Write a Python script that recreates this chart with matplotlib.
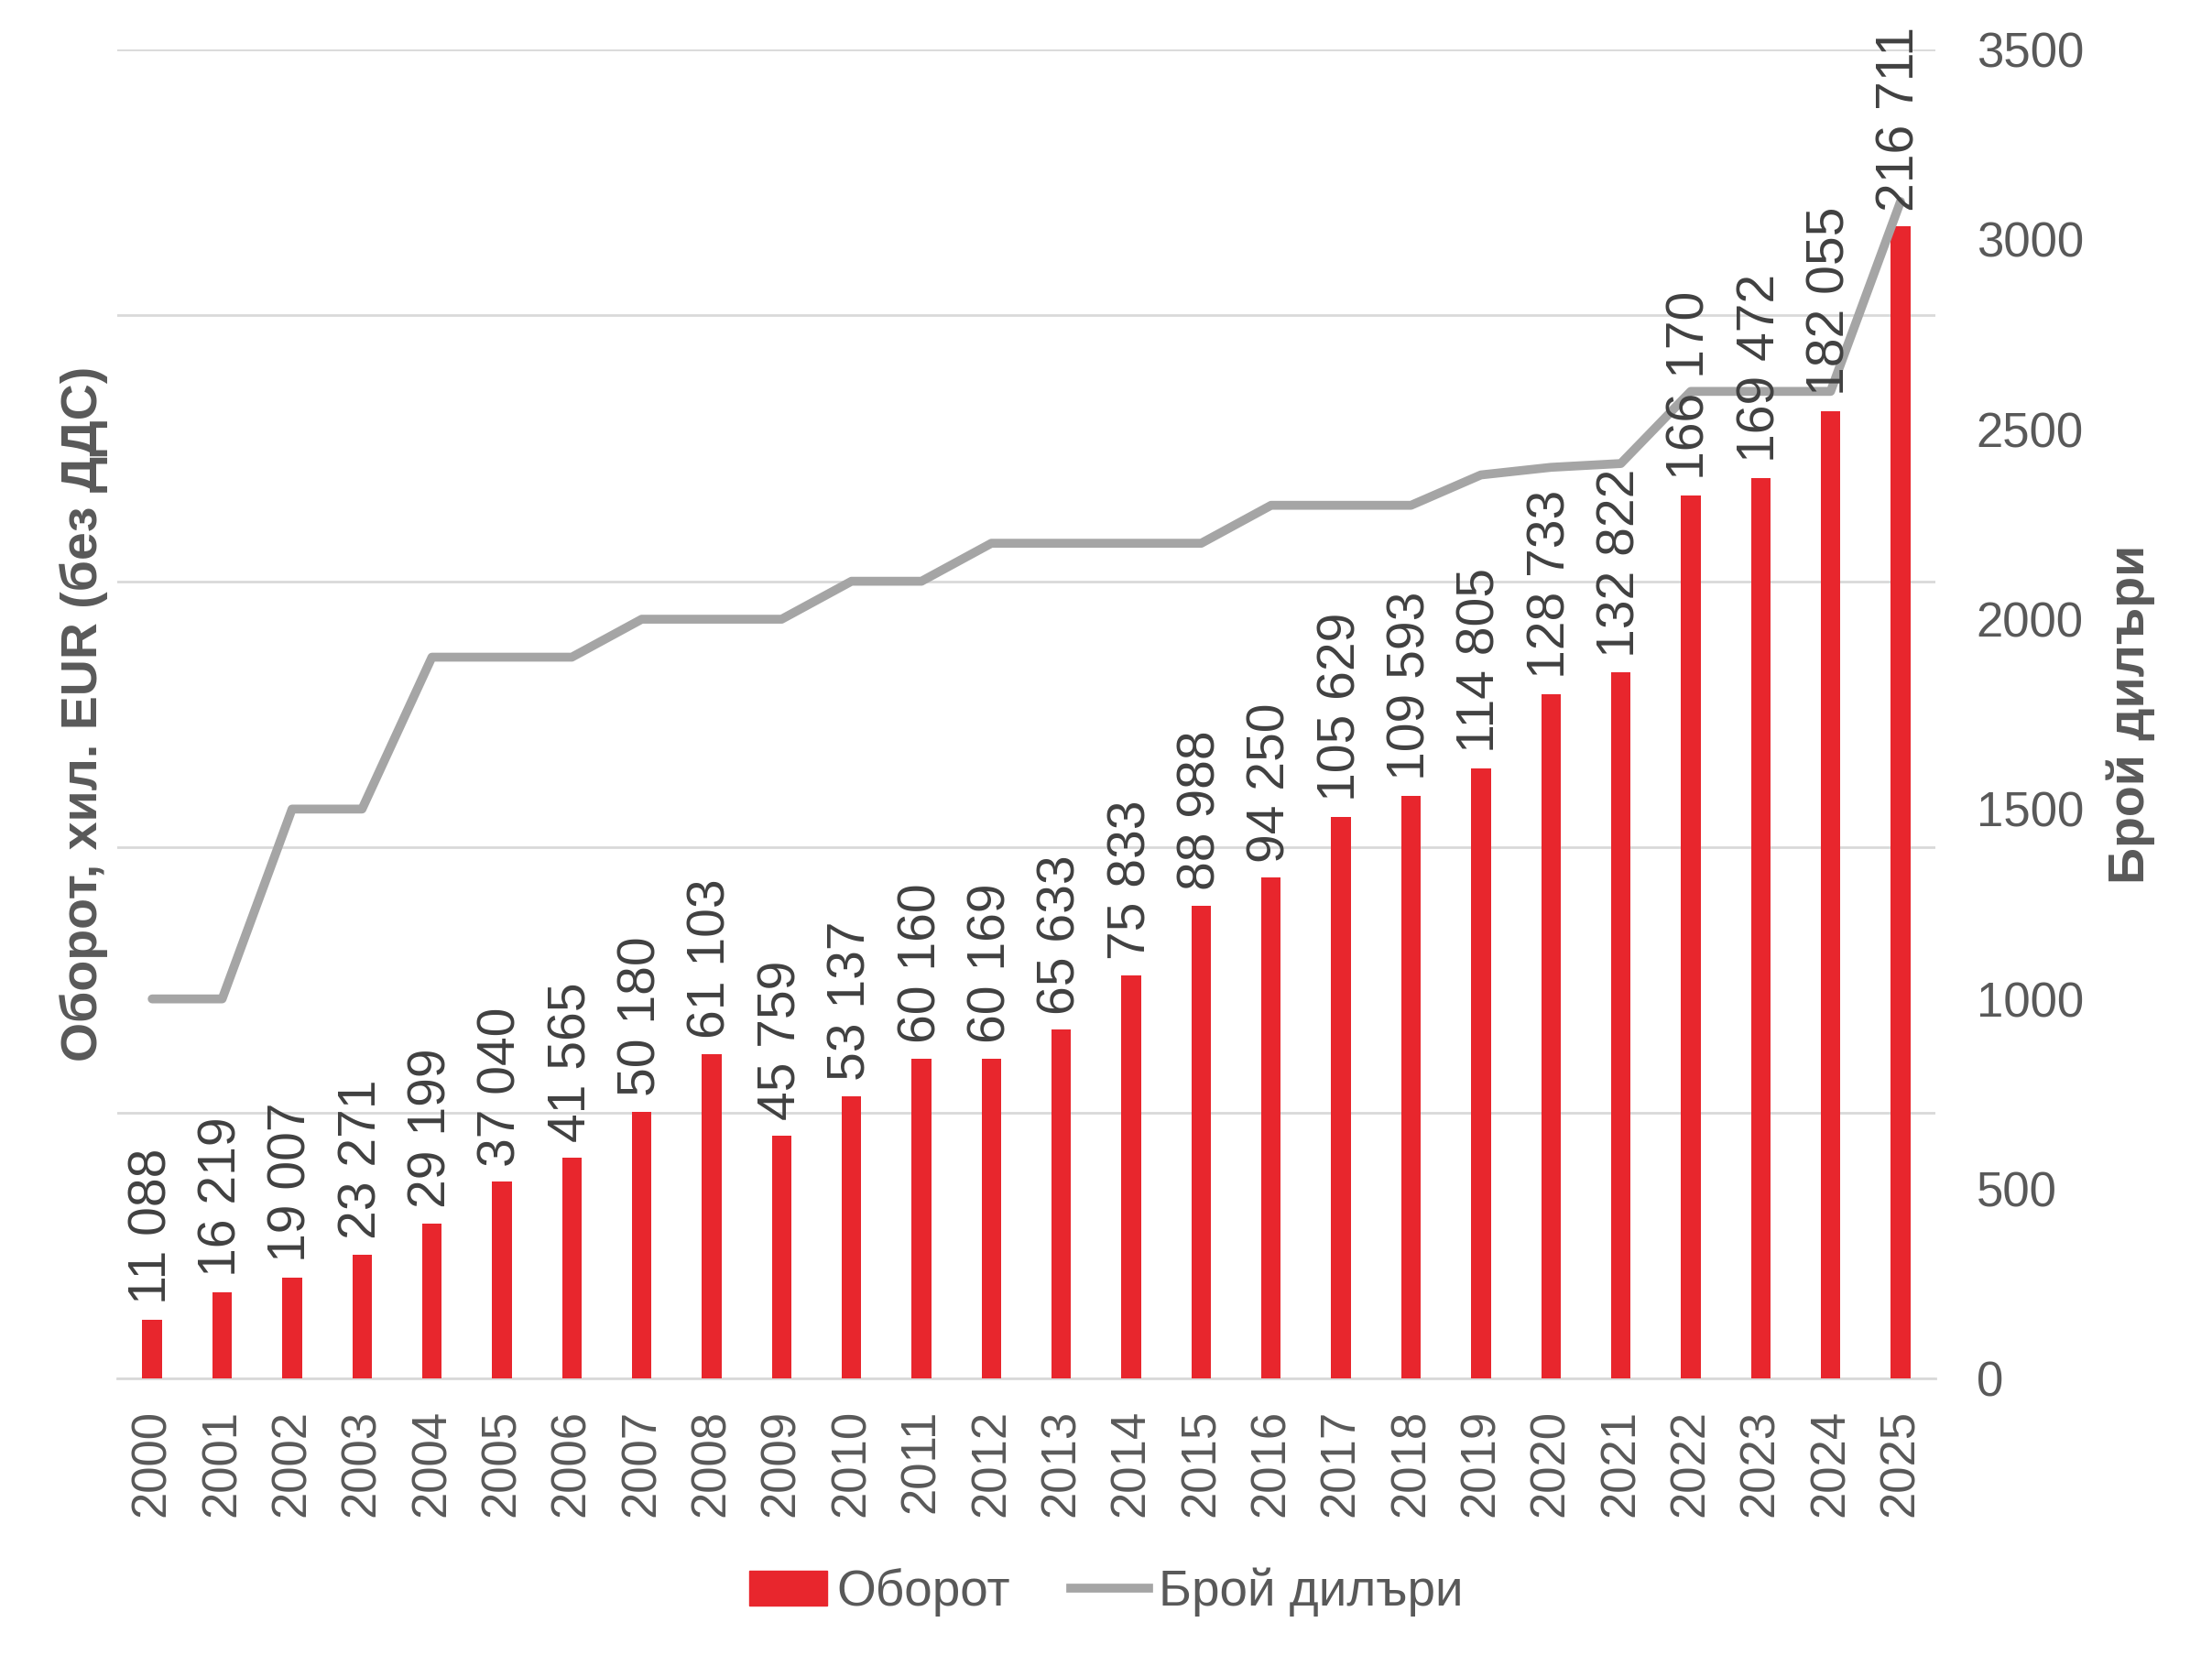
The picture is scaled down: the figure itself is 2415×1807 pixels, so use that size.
import matplotlib
matplotlib.use("Agg")
import matplotlib.pyplot as plt
from matplotlib.patches import Patch
from matplotlib.lines import Line2D

plt.rcParams['font.family'] = ['Liberation Sans', 'DejaVu Sans']

years = [str(y) for y in range(2000, 2026)]
turnover = [11088, 16219, 19007, 23271, 29199, 37040, 41565, 50180, 61103, 45759,
            53137, 60160, 60169, 65633, 75833, 88988, 94250, 105629, 109593, 114805,
            128733, 132822, 166170, 169472, 182055, 216711]
dealers = [1000, 1000, 1500, 1500, 1900, 1900, 1900, 2000, 2000, 2000,
           2100, 2100, 2200, 2200, 2200, 2200, 2300, 2300, 2300, 2380,
           2400, 2410, 2600, 2600, 2600, 3100]

RED = '#E8262D'
GREY = '#A5A5A5'
TXT = '#595959'
LBL = '#404040'
FS = 38

fig = plt.figure(figsize=(24.15, 18.07), dpi=100)
ax = fig.add_axes([0.053, 0.167, 0.822, 0.803])
ax2 = ax.twinx()

x = range(len(years))
ax.bar(x, turnover, width=0.28, color=RED, zorder=3)
ax2.plot(x, dealers, color=GREY, lw=7, solid_capstyle='round', zorder=4)

# labels on top of the line, positioned in turnover units
for i, v in enumerate(turnover):
    lab = f'{v:,}'.replace(',', ' ')
    ax2.annotate(lab, (i, v), xycoords=ax.transData, xytext=(0, 12),
                 textcoords='offset points', rotation=90, ha='center', va='bottom',
                 fontsize=41, color=LBL, zorder=5)

ax.set_xlim(-0.5, len(years) - 0.5)
ax.set_ylim(0, 250000)
ax.set_yticks(range(0, 250001, 50000))
ax.set_yticklabels([])
ax.grid(axis='y', color='#D9D9D9', lw=2, zorder=0)
ax.set_axisbelow(True)
ax.set_xticks(list(x))
ax.set_xticklabels(years, rotation=90, fontsize=FS, color=TXT)
ax.tick_params(axis='x', length=0, pad=24)
ax.tick_params(axis='y', length=0)
ax.set_ylabel('Оборот, хил. EUR (без ДДС)', fontsize=40, fontweight='bold', color=TXT, labelpad=4)

ax2.set_ylim(0, 3500)
ax2.set_yticks(range(0, 3501, 500))
ax2.tick_params(axis='y', length=0, pad=32, labelsize=FS, labelcolor=TXT)
ax2.set_ylabel('Брой дилъри', fontsize=40, fontweight='bold', color=TXT, labelpad=18)

for a in (ax, ax2):
    for s in a.spines.values():
        s.set_visible(False)
ax.spines['bottom'].set_visible(True)
ax.spines['bottom'].set_color('#D9D9D9')
ax.spines['bottom'].set_linewidth(2)

handles = [Patch(color=RED), Line2D([0], [0], color=GREY, lw=7)]
leg = fig.legend(handles, ['Оборот', 'Брой дилъри'], loc='center', bbox_to_anchor=(0.5, 0.038),
                 ncol=2, frameon=False, fontsize=39.5, handlelength=1.55, handletextpad=0.2,
                 columnspacing=1.2)
for t in leg.get_texts():
    t.set_color(TXT)

fig.savefig('out.png', dpi=100)
